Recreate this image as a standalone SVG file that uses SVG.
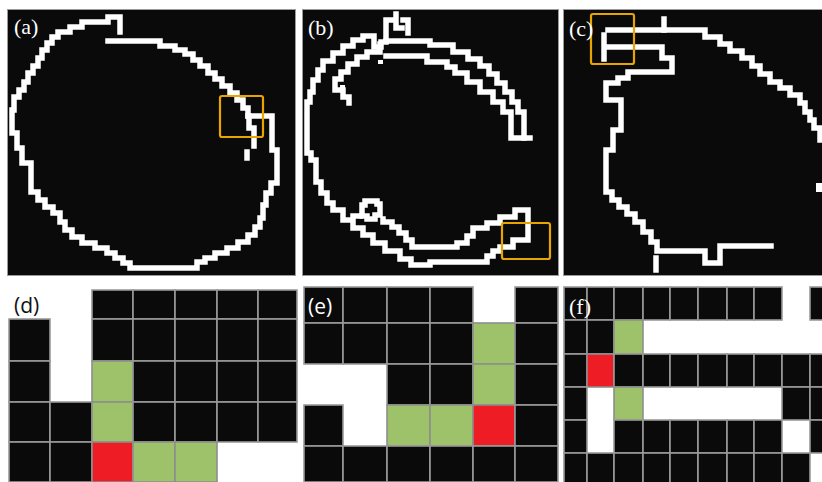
<svg xmlns="http://www.w3.org/2000/svg" width="822" height="482" viewBox="0 0 822 482">
<style>
.panel{fill:#0a0a0a;stroke:#9a9a9a;stroke-width:1}
.c{fill:none;stroke:#ffffff;stroke-width:5.5;stroke-linejoin:miter;stroke-linecap:square}
.box{fill:none;stroke:#e8a500;stroke-width:2.2}
.lw{font-family:"Liberation Serif","DejaVu Serif",serif;font-size:22px;fill:#ffffff}
.ls{font-family:"Open Sans","Liberation Sans",sans-serif;font-size:21px}
.k{fill:#0a0a0a;stroke:#9a9a9a;stroke-width:1.6}
.g{fill:#9dc26a;stroke:#8e8e8e;stroke-width:1.6}
.r{fill:#ee1c24;stroke:#8e8e8e;stroke-width:1.6}
</style>
<rect x="0" y="0" width="822" height="482" fill="#ffffff"/>

<g id="panel-a">
<rect class="panel" x="7.5" y="9.5" width="288" height="266"/>
<path class="c" d="M120,32 V17 H108 V22 H82 V27 H70 V32 H58 V37 H52 V43 H47 V50 H42 V58 H38 V66 H33 V73 H28 V82 H24 V90 H19 V97 H14 V110 H12 V133 H17 V148 H22 V163 H31 V192 H38 V200 H45 V207 H53 V213 H60 V222 H65 V230 H72 V237 H82 V243 H95 V248 H107 V253 H115 V258 H123 V263 H130 V268 H197 V262 H205 V258 H215 V253 H227 V248 H238 V242 H248 V235 H255 V227 H260 V218 H263 V205 H266 V193 H271 V183 H277 V150 H272 V116 H248"/>
<path class="c" d="M248,116 V108 H243 V100 H237 V93 H230 V86 H222 V79 H215 V73 H208 V66 H200 V60 H193 V54 H185 V50 H175 V46 H160 V41 H108"/>
<path class="c" d="M249,116 V128 H254 V146"/>
<path class="c" d="M247,152 V158"/>
<rect class="box" x="220" y="96" width="43" height="41" rx="2"/>
<text class="lw" x="14" y="34">(a)</text>
</g>

<g id="panel-b">
<rect class="panel" x="302.5" y="9.5" width="256" height="266"/>
<path class="c" d="M386,41 V20 H393 M396,14 V28 H402 M403,20 H408 V33"/>
<path class="c" d="M386,41 H430 V45 H453 V52 H468 V59 H480 V66 H489 V74 H497 V83 H505 V92 H512 V102 H518 V112 H524 V138 H530"/>
<path class="c" d="M386,56 H427 V62 H447 V67 H455 V73 H467 V82 H480 V92 H493 V102 H503 V112 H511 V138 H524"/>
<path class="c" d="M386,42 H381 V47 H374 V36 H363 V40 H353 V46 H343 V53 H333 V61 H323 V70 H318 V80 H313 V92 H310 V102 H307 V153 H311 V160 H316 V182 H321 V193 H327 V203 H333 V210 H343 V220 H353 V228 H363 V235 H373 V243 H385 V251 H400 V259 H411 V265 H430 V262 H487 V256 H493 V251 H500 V247 H513 V240 H528 V210 H515 V217 H500 V223 H487 V228 H473 V236 H467 V243 H457 V247 H412 V240 H406 V233 H399 V227 H392 V222 H383 V219"/>
<path class="c" d="M380,44 V52 H367 V57 H357 V64 H348 V72 H341 V79 H335 V90 H343 V97 H349 V103"/>
<path class="c" d="M365,201 H377 V204 H380 V215 H375 V219 H367 V216 H362 V205 H365 Z"/>
<path class="c" d="M353,216 H360"/>
<rect x="378" y="60" width="5" height="4" fill="#ffffff"/>
<rect x="340" y="85" width="5" height="4" fill="#ffffff"/>
<rect class="box" x="502" y="223" width="48" height="36" rx="2"/>
<text class="lw" x="308" y="35">(b)</text>
</g>

<g id="panel-c">
<rect class="panel" x="563.5" y="9.5" width="262" height="266"/>
<path class="c" d="M608,30 H705 V37 H720 V44 H730 V51 H742 V58 H752 V66 H760 V74 H770 V82 H780 V88 H790 V95 H800 V103 H805 V112 H810 V120 H814 V128 H820 V140"/>
<path class="c" d="M664,19 V30"/>
<path class="c" d="M604,35 V59"/>
<path class="c" d="M608,47 H662 V58 H672 V72 H628 V78 H618 V83 H606 V100 H621 V130 H613 V150 H606 V192 H612 V200 H619 V207 H627 V214 H635 V222 H643 V232 H651 V242 H657 V251 H705 V263 H720 V246 H771"/>
<path class="c" d="M656,258 V270"/>
<rect x="816" y="183" width="6" height="9" fill="#ffffff"/>
<rect class="box" x="591" y="14" width="43" height="50" rx="2"/>
<text class="lw" x="569" y="36">(c)</text>
</g>

<g id="panel-d">
<rect class="k" x="92" y="290" width="41" height="29"/>
<rect class="k" x="133" y="290" width="42" height="29"/>
<rect class="k" x="175" y="290" width="42" height="29"/>
<rect class="k" x="217" y="290" width="41" height="29"/>
<rect class="k" x="258" y="290" width="39" height="29"/>
<rect class="k" x="9" y="319" width="41" height="42"/>
<rect class="k" x="92" y="319" width="41" height="42"/>
<rect class="k" x="133" y="319" width="42" height="42"/>
<rect class="k" x="175" y="319" width="42" height="42"/>
<rect class="k" x="217" y="319" width="41" height="42"/>
<rect class="k" x="258" y="319" width="39" height="42"/>
<rect class="k" x="9" y="361" width="41" height="41"/>
<rect class="g" x="92" y="361" width="41" height="41"/>
<rect class="k" x="133" y="361" width="42" height="41"/>
<rect class="k" x="175" y="361" width="42" height="41"/>
<rect class="k" x="217" y="361" width="41" height="41"/>
<rect class="k" x="258" y="361" width="39" height="41"/>
<rect class="k" x="9" y="402" width="41" height="40"/>
<rect class="k" x="50" y="402" width="42" height="40"/>
<rect class="g" x="92" y="402" width="41" height="40"/>
<rect class="k" x="133" y="402" width="42" height="40"/>
<rect class="k" x="175" y="402" width="42" height="40"/>
<rect class="k" x="217" y="402" width="41" height="40"/>
<rect class="k" x="258" y="402" width="39" height="40"/>
<rect class="k" x="9" y="442" width="41" height="40"/>
<rect class="k" x="50" y="442" width="42" height="40"/>
<rect class="r" x="92" y="442" width="41" height="40"/>
<rect class="g" x="133" y="442" width="42" height="40"/>
<rect class="g" x="175" y="442" width="42" height="40"/>
<text class="ls" x="14" y="313" fill="#111111">(d)</text>
</g>

<g id="panel-e">
<rect class="k" x="304" y="287" width="39" height="36"/>
<rect class="k" x="343" y="287" width="44" height="36"/>
<rect class="k" x="387" y="287" width="43" height="36"/>
<rect class="k" x="430" y="287" width="43" height="36"/>
<rect class="k" x="515" y="287" width="43" height="36"/>
<rect class="k" x="304" y="323" width="39" height="41"/>
<rect class="k" x="343" y="323" width="44" height="41"/>
<rect class="k" x="387" y="323" width="43" height="41"/>
<rect class="k" x="430" y="323" width="43" height="41"/>
<rect class="g" x="473" y="323" width="42" height="41"/>
<rect class="k" x="515" y="323" width="43" height="41"/>
<rect class="k" x="387" y="364" width="43" height="41"/>
<rect class="k" x="430" y="364" width="43" height="41"/>
<rect class="g" x="473" y="364" width="42" height="41"/>
<rect class="k" x="515" y="364" width="43" height="41"/>
<rect class="k" x="304" y="405" width="39" height="41"/>
<rect class="g" x="387" y="405" width="43" height="41"/>
<rect class="g" x="430" y="405" width="43" height="41"/>
<rect class="r" x="473" y="405" width="42" height="41"/>
<rect class="k" x="515" y="405" width="43" height="41"/>
<rect class="k" x="304" y="446" width="39" height="36"/>
<rect class="k" x="343" y="446" width="44" height="36"/>
<rect class="k" x="387" y="446" width="43" height="36"/>
<rect class="k" x="430" y="446" width="43" height="36"/>
<rect class="k" x="473" y="446" width="42" height="36"/>
<rect class="k" x="515" y="446" width="43" height="36"/>
<text class="ls" x="308" y="314" fill="#ffffff">(e)</text>
</g>

<g id="panel-f">
<rect class="k" x="564" y="287" width="23" height="33"/>
<rect class="k" x="587" y="287" width="27" height="33"/>
<rect class="k" x="614" y="287" width="29" height="33"/>
<rect class="k" x="643" y="287" width="27" height="33"/>
<rect class="k" x="670" y="287" width="28" height="33"/>
<rect class="k" x="698" y="287" width="29" height="33"/>
<rect class="k" x="727" y="287" width="27" height="33"/>
<rect class="k" x="754" y="287" width="28" height="33"/>
<rect class="k" x="810" y="287" width="14" height="33"/>
<rect class="k" x="564" y="320" width="23" height="34"/>
<rect class="k" x="587" y="320" width="27" height="34"/>
<rect class="g" x="614" y="320" width="29" height="34"/>
<rect class="k" x="564" y="354" width="23" height="33"/>
<rect class="r" x="587" y="354" width="27" height="33"/>
<rect class="k" x="614" y="354" width="29" height="33"/>
<rect class="k" x="643" y="354" width="27" height="33"/>
<rect class="k" x="670" y="354" width="28" height="33"/>
<rect class="k" x="698" y="354" width="29" height="33"/>
<rect class="k" x="727" y="354" width="27" height="33"/>
<rect class="k" x="754" y="354" width="28" height="33"/>
<rect class="k" x="782" y="354" width="28" height="33"/>
<rect class="k" x="810" y="354" width="14" height="33"/>
<rect class="k" x="564" y="387" width="23" height="33"/>
<rect class="g" x="614" y="387" width="29" height="33"/>
<rect class="k" x="782" y="387" width="28" height="33"/>
<rect class="k" x="810" y="387" width="14" height="33"/>
<rect class="k" x="564" y="420" width="23" height="33"/>
<rect class="k" x="614" y="420" width="29" height="33"/>
<rect class="k" x="643" y="420" width="27" height="33"/>
<rect class="k" x="670" y="420" width="28" height="33"/>
<rect class="k" x="698" y="420" width="29" height="33"/>
<rect class="k" x="727" y="420" width="27" height="33"/>
<rect class="k" x="754" y="420" width="28" height="33"/>
<rect class="k" x="810" y="420" width="14" height="33"/>
<rect class="k" x="564" y="453" width="23" height="31"/>
<rect class="k" x="587" y="453" width="27" height="31"/>
<rect class="k" x="614" y="453" width="29" height="31"/>
<rect class="k" x="643" y="453" width="27" height="31"/>
<rect class="k" x="670" y="453" width="28" height="31"/>
<rect class="k" x="698" y="453" width="29" height="31"/>
<rect class="k" x="727" y="453" width="27" height="31"/>
<rect class="k" x="754" y="453" width="28" height="31"/>
<rect class="k" x="782" y="453" width="28" height="31"/>
<text class="lw" x="569" y="314">(f)</text>
</g>
</svg>
